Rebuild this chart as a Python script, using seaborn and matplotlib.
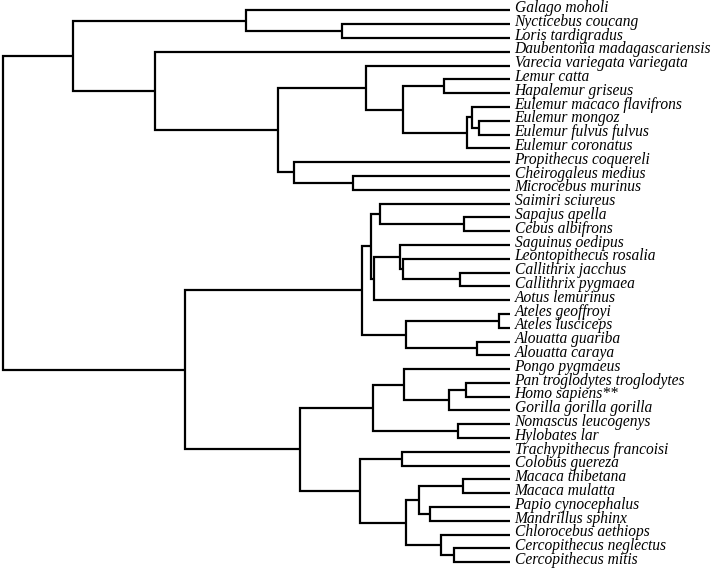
import matplotlib
matplotlib.use('Agg')
import matplotlib.pyplot as plt
import pandas as pd
import seaborn as sns

# Tip labels, top to bottom
tips = [
    'Galago moholi', 'Nycticebus coucang', 'Loris tardigradus',
    'Daubentonia madagascariensis', 'Varecia variegata variegata',
    'Lemur catta', 'Hapalemur griseus', 'Eulemur macaco flavifrons',
    'Eulemur mongoz', 'Eulemur fulvus fulvus', 'Eulemur coronatus',
    'Propithecus coquereli', 'Cheirogaleus medius', 'Microcebus murinus',
    'Saimiri sciureus', 'Sapajus apella', 'Cebus albifrons',
    'Saguinus oedipus', 'Leontopithecus rosalia', 'Callithrix jacchus',
    'Callithrix pygmaea', 'Aotus lemurinus', 'Ateles geoffroyi',
    'Ateles lusciceps', 'Alouatta guariba', 'Alouatta caraya',
    'Pongo pygmaeus', 'Pan troglodytes troglodytes', 'Homo sapiens**',
    'Gorilla gorilla gorilla', 'Nomascus leucogenys', 'Hylobates lar',
    'Trachypithecus francoisi', 'Colobus guereza', 'Macaca thibetana',
    'Macaca mulatta', 'Papio cynocephalus', 'Mandrillus sphinx',
    'Chlorocebus aethiops', 'Cercopithecus neglectus', 'Cercopithecus mitis'
]
tip_depth = 100

# Internal nodes (children listed before parents)
clade_names = [
    'NycLor', 'Lorisoidea', 'LemHap', 'EulMF', 'EulIn', 'Eulemur', 'LemEul',
    'Lemuridae', 'Cheirogaleidae', 'IndCheir', 'Lemuroidea', 'Lemuriformes',
    'Strepsirrhini', 'SapCeb', 'Cebidae', 'Callithrix', 'LeoCal',
    'Callitrichidae', 'CalAot', 'CebCal', 'Ateles', 'Alouatta', 'Atelidae',
    'Platyrrhini', 'PanHomo', 'Homininae', 'Hominidae', 'Hylobatidae',
    'Hominoidea', 'Colobinae', 'Macaca', 'PapMan', 'Papionini',
    'Cercopithecus', 'Cercopithecini', 'Cercopithecinae', 'Cercopithecidae',
    'Catarrhini', 'Haplorhini', 'Primates'
]
clade_left = [
    'Nycticebus coucang', 'Galago moholi', 'Lemur catta', 'Eulemur mongoz',
    'Eulemur macaco flavifrons', 'EulIn', 'LemHap',
    'Varecia variegata variegata', 'Cheirogaleus medius',
    'Propithecus coquereli', 'Lemuridae', 'Daubentonia madagascariensis',
    'Lorisoidea', 'Sapajus apella', 'Saimiri sciureus', 'Callithrix jacchus',
    'Leontopithecus rosalia', 'Saguinus oedipus', 'Callitrichidae', 'Cebidae',
    'Ateles geoffroyi', 'Alouatta guariba', 'Ateles', 'CebCal',
    'Pan troglodytes troglodytes', 'PanHomo', 'Pongo pygmaeus',
    'Nomascus leucogenys', 'Hominidae', 'Trachypithecus francoisi',
    'Macaca thibetana', 'Papio cynocephalus', 'Macaca',
    'Cercopithecus neglectus', 'Chlorocebus aethiops', 'Papionini',
    'Colobinae', 'Hominoidea', 'Platyrrhini', 'Strepsirrhini'
]
clade_right = [
    'Loris tardigradus', 'NycLor', 'Hapalemur griseus',
    'Eulemur fulvus fulvus', 'EulMF', 'Eulemur coronatus', 'Eulemur',
    'LemEul', 'Microcebus murinus', 'Cheirogaleidae', 'IndCheir',
    'Lemuroidea', 'Lemuriformes', 'Cebus albifrons', 'SapCeb',
    'Callithrix pygmaea', 'Callithrix', 'LeoCal', 'Aotus lemurinus', 'CalAot',
    'Ateles lusciceps', 'Alouatta caraya', 'Alouatta', 'Atelidae',
    'Homo sapiens**', 'Gorilla gorilla gorilla', 'Homininae', 'Hylobates lar',
    'Hylobatidae', 'Colobus guereza', 'Macaca mulatta', 'Mandrillus sphinx',
    'PapMan', 'Cercopithecus mitis', 'Cercopithecus', 'Cercopithecini',
    'Cercopithecinae', 'Cercopithecidae', 'Catarrhini', 'Haplorhini'
]
clade_depth = [
    66.9, 47.9, 87.1, 94.0, 92.5, 91.7, 79.0, 71.6, 69.1, 57.4, 54.3, 30.0,
    13.8, 91.0, 74.4, 90.2, 79.0, 78.4, 73.3, 72.6, 97.9, 93.5, 79.6, 70.8,
    91.5, 88.0, 79.2, 89.8, 73.1, 78.7, 90.9, 84.2, 82.2, 89.1, 86.5, 79.6,
    70.5, 58.6, 35.9, 0.0
]

# Node positions: tips by row, clades at the midpoint of their children
pos_x = {name: tip_depth for name in tips}
pos_y = {name: i for i, name in enumerate(tips)}
rows = []
for name, left, right, depth in zip(clade_names, clade_left, clade_right,
                                    clade_depth):
    pos_x[name] = depth
    pos_y[name] = (pos_y[left] + pos_y[right]) / 2
    pts = [(pos_x[left], pos_y[left]), (depth, pos_y[left]),
           (depth, pos_y[right]), (pos_x[right], pos_y[right])]
    for k, (x, y) in enumerate(pts):
        rows.append({'clade': name, 'order': k, 'x': x, 'y': y})
df = pd.DataFrame(rows)

sns.set_style('white')
plt.rcParams['font.family'] = ['Liberation Serif', 'DejaVu Serif']

fig = plt.figure(figsize=(7.13, 5.70), dpi=100)
ax = fig.add_axes([0, 0, 1, 1])
sns.lineplot(data=df, x='x', y='y', units='clade', estimator=None,
             sort=False, color='black', linewidth=1.6, legend=False, ax=ax,
             solid_joinstyle='miter', solid_capstyle='butt')

# labels sit with their baseline just under the tip line
for i, name in enumerate(tips):
    ax.text(tip_depth + 1.0, i + 0.12, name, fontsize=11.2,
            fontstyle='italic', va='baseline', ha='left', color='black')

ax.set_xlim(-0.65, 140.2)
ax.set_ylim(40.56, -0.75)
ax.axis('off')

fig.savefig('out.png', dpi=100)
